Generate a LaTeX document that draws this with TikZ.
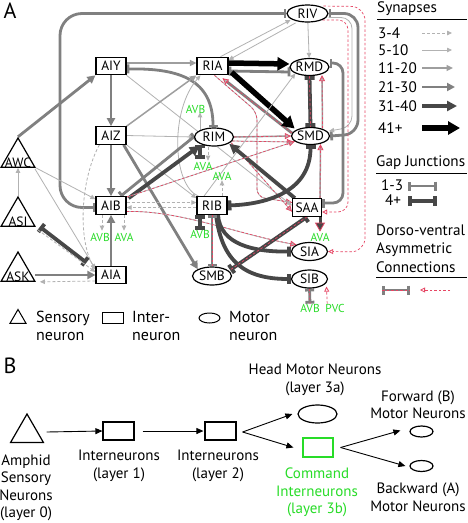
\documentclass[tikz,border=0pt]{standalone}
\usepackage{fontspec}
\setmainfont{PT Sans}
\usetikzlibrary{arrows.meta,shapes.geometric,calc}
\pgfdeclarelayer{bg}
\pgfsetlayers{bg,main}
\definecolor{c510}{gray}{0.70}
\definecolor{c1120}{gray}{0.62}
\definecolor{c2130}{gray}{0.50}
\definecolor{c3140}{gray}{0.28}
\definecolor{dvred}{RGB}{230,70,100}
\definecolor{cgreen}{RGB}{40,220,40}
\tikzset{
 nfont/.style={font=\fontsize{13.5}{14}\selectfont},
 lfont/.style={font=\fontsize{16}{18.5}\selectfont, inner sep=0pt},
 rfont/.style={font=\fontsize{15.2}{18.5}\selectfont, inner sep=0pt},
 bfont/.style={font=\fontsize{15}{17.5}\selectfont, inner sep=0pt, align=center},
 nbox/.style={draw, line width=1.2pt, fill=white, minimum width=30pt, minimum height=17.5pt, inner sep=0pt, nfont},
 nell/.style={draw, ellipse, line width=1.2pt, fill=white, minimum width=38pt, minimum height=17pt, inner sep=0pt, nfont},
 ntri/.style={draw, regular polygon, regular polygon sides=3, line width=1.2pt, fill=white, minimum size=39pt, inner sep=0pt},
 glab/.style={text=cgreen, font=\fontsize{11.5}{11.5}\selectfont, inner sep=0pt},
 s34/.style={draw=c510, line width=0.8pt, dash pattern=on 3pt off 2pt, -{Triangle[length=5pt,width=4.5pt]}},
 s510/.style={draw=c510, line width=0.8pt, -{Triangle[length=5pt,width=4.5pt]}},
 s1120/.style={draw=c1120, line width=1.5pt, -{Triangle[length=6.5pt,width=6pt]}},
 s2130/.style={draw=c2130, line width=2.8pt, -{Triangle[length=8pt,width=8pt]}},
 s3140/.style={draw=c3140, line width=3.8pt, -{Triangle[length=10pt,width=10pt]}},
 s41/.style={draw=black, line width=5.5pt, -{Triangle[length=12pt,width=13pt]}},
 g13/.style={draw=c2130, line width=2.8pt, {Bar[width=9pt]}-{Bar[width=9pt]}},
 g4/.style={draw=c3140, line width=3.8pt, {Bar[width=10pt]}-{Bar[width=10pt]}},
 dvo/.style={postaction={draw=dvred, line width=0.7pt, dash pattern=on 2.5pt off 2pt, arrows=-}},
 dvtip/.style={-{Triangle[length=6pt,width=6pt,fill=c510,color=dvred,line width=0.8pt]}},
 dvr/.style={draw=dvred, line width=0.7pt, dash pattern=on 2.5pt off 2pt, -{Triangle[open,length=5pt,width=5pt,line width=0.8pt]}},
 barr/.style={draw=black, line width=0.9pt, -{Triangle[length=7pt,width=6pt]}},
}
\begin{document}
\begin{tikzpicture}[x=1pt,y=-1pt]
\useasboundingbox (0,0) rectangle (467,523);
% ---------- Part A nodes ----------
\node[font=\fontsize{22}{22}\selectfont, inner sep=0pt] (lA) at (10,10.5) {A};
\node[nbox] (aiy) at (111,66) {AIY};
\node[nbox, minimum width=31pt] (ria) at (212.5,66) {RIA};
\node[nbox] (aiz) at (111,135.5) {AIZ};
\node[nell, minimum width=39pt, minimum height=18pt] (rim) at (214,137) {RIM};
\node[nbox] (aib) at (111,205.5) {AIB};
\node[nbox] (rib) at (212,205.5) {RIB};
\node[nbox] (aia) at (111,275) {AIA};
\node[nell, minimum width=39pt, minimum height=18pt] (smb) at (212,276) {SMB};
\node[nell, minimum width=41pt] (riv) at (307.5,13.5) {RIV};
\node[nell] (rmd) at (309.5,67) {RMD};
\node[nell] (smd) at (310.5,136) {SMD};
\node[nbox, minimum width=29pt] (saa) at (307,207.5) {SAA};
\node[nell, minimum width=36pt, minimum height=18pt] (sia) at (309.5,251.5) {SIA};
\node[nell, minimum width=36pt, minimum height=18pt] (sib) at (309.5,279) {SIB};
\node[ntri, label={[nfont, yshift=-5pt]center:AWC}] (awc) at (18,157.5) {};
\node[ntri, label={[nfont, yshift=-5pt]center:ASI}] (asi) at (18,216.5) {};
\node[ntri, label={[nfont, yshift=-5pt]center:ASK}] (ask) at (18,271.5) {};
% green labels
\node[glab] (avb1) at (195.5,109) {AVB};
\node[glab] (ava1) at (203,166) {AVA};
\node[glab] (ava2) at (222,176) {AVA};
\node[glab] (avb2) at (200,234) {AVB};
\node[glab] (avb3) at (100,237) {AVB};
\node[glab] (ava3) at (124,237) {AVA};
\node[glab] (ava4) at (320,237) {AVA};
\node[glab] (avb4) at (310,308) {AVB};
\node[glab] (pvc) at (335,308) {PVC};
% ---------- Part A legend ----------
\node[ntri, minimum size=18.5pt, line width=1pt] (lt) at (18,318.7) {};
\node[lfont, anchor=west, align=left] (ltt) at (36,326) {Sensory\\neuron};
\node[draw, line width=1pt, minimum width=21pt, minimum height=11pt, inner sep=0pt] (lr) at (112.5,317.5) {};
\node[lfont, anchor=west, align=left] (lrt) at (132,326) {Inter-\\neuron};
\node[draw, ellipse, line width=1pt, minimum width=21pt, minimum height=10pt, inner sep=0pt] (le) at (209.5,318) {};
\node[lfont, anchor=west, align=left] (let) at (229,326) {Motor\\neuron};
% ---------- right legend ----------
\node[rfont, anchor=west] (lsyn) at (377,9) {Synapses};
\node[rfont, anchor=west] (l1) at (378,33) {3-4};
\node[rfont, anchor=west] (l2) at (378,50) {5-10};
\node[rfont, anchor=west] (l3) at (378,68) {11-20};
\node[rfont, anchor=west] (l4) at (378,87) {21-30};
\node[rfont, anchor=west] (l5) at (378,106) {31-40};
\node[rfont, anchor=west] (l6) at (378,128) {41+};
\node[rfont, anchor=west] (lgap) at (376,163) {Gap Junctions};
\node[rfont, anchor=west] (lg1) at (381,185) {1-3};
\node[rfont, anchor=west] (lg2) at (385,200) {4+};
\node[rfont, anchor=west, align=left] (ldv) at (376,248.5) {Dorso-ventral\\Asymmetric\\Connections};
% ---------- Part B ----------
\node[font=\fontsize{22}{22}\selectfont, inner sep=0pt] (lB) at (10,366) {B};
\node[ntri, minimum size=38pt] (bt) at (27,433) {};
\node[draw, line width=1.2pt, minimum width=31pt, minimum height=18pt, inner sep=0pt] (b1) at (118.5,431) {};
\node[draw, line width=1.2pt, minimum width=31pt, minimum height=18pt, inner sep=0pt] (b2) at (220.5,431) {};
\node[draw, ellipse, line width=1.2pt, minimum width=39pt, minimum height=18pt, inner sep=0pt] (bh) at (317.5,414) {};
\node[draw=cgreen, line width=1.2pt, minimum width=30pt, minimum height=19pt, inner sep=0pt] (bc) at (318,447.5) {};
\node[draw, ellipse, line width=1.2pt, minimum width=23pt, minimum height=11pt, inner sep=0pt] (bf) at (421.5,431.5) {};
\node[draw, ellipse, line width=1.2pt, minimum width=23pt, minimum height=11pt, inner sep=0pt] (bb) at (421.5,466) {};
\node[bfont] (bt0) at (26,488) {Amphid\\Sensory\\Neurons\\(layer 0)};
\node[bfont] (bt1) at (119,466) {Interneurons\\(layer 1)};
\node[bfont] (bt2) at (218,466) {Interneurons\\(layer 2)};
\node[bfont] (bth) at (315,380) {Head Motor Neurons\\(layer 3a)};
\node[bfont, text=cgreen] (btc) at (317,492.5) {Command\\Interneurons\\(layer 3b)};
\node[bfont] (btf) at (418,404.5) {Forward (B)\\Motor Neurons};
\node[bfont] (btb) at (418,497) {Backward (A)\\Motor Neurons};

\begin{pgfonlayer}{bg}
\fill[white] (0,0) rectangle (467,523);
% big loops
\draw[g13, rounded corners=22pt] ($(aib.west)+(0,2)$) -- (60,207.5) -- (60,13.5) -- (riv.west);
\draw[g13, rounded corners=14pt] (riv.east) -- (358,13.5) -- (358,134) -- (smd.east);
\draw[s510, rounded corners=11pt] ($(riv.east)+(0,4)$) -- (352,17.5) -- (352,127) -- ($(smd.east)+(-1,-5)$);
\draw[g13, rounded corners=10pt] ($(rmd.east)+(0,-4)$) -- (343,63) -- (343,203) -- ($(saa.east)+(0,-4.5)$);
\draw[dvr, rounded corners=10pt] (riv.south east) -- (348,20) -- (348,212) -- ($(saa.east)+(0,4.5)$);
\draw[dvr, rounded corners=14pt] ($(riv.north east)+(1,-1)$) -- (365,6.5) -- (365,252) -- (sia.east);
% top
\draw[s510] ($(ria.north)+(8,0)$) -- ($(riv.south west)+(-2,0)$);
\draw[s510] ($(riv.south west)+(3,3)$) -- ($(ria.east)+(0,-6)$);
\draw[s510] (riv) -- (rmd);
\draw[g13] ($(ria.east)+(0,5)$) -- ($(rmd.west)+(1,5)$);
\draw[s41] ($(ria.east)+(0,-3)$) -- ($(rmd.west)+(0,-3)$);
\draw[s2130, dvo, dvtip] ($(smd.west)+(1,-3)$) -- ($(ria.south east)+(-6,3)$);
\draw[s41] ($(ria.south east)+(3,-3)$) -- ($(smd.north west)+(-2,-1)$);
\draw[g4, dvo] (rmd.south) -- (smd.north);
\draw[s1120, dvo, dvtip] ($(smd.north)+(12,1.5)$) -- ($(rmd.south)+(12.5,-1)$);
\draw[s1120, dvo, dvtip] ($(saa.north)+(13,0)$) -- ($(smd.south)+(10,-1)$);
\draw[s510, dvo, dvtip, rounded corners=8pt] ($(ria.south)+(2,0)$) -- (257,112) -- (257,197) -- ($(saa.west)+(0,-5)$);
% AIY / AIZ
\draw[s1120] ($(aiy.east)+(0,-3)$) -- ($(ria.west)+(0,-3)$);
\draw[g13] ($(aiy.east)+(0,3)$) .. controls (180,68) and (213,80) .. ($(rim.north)+(-1,0)$);
\draw[s2130] (aiy) -- (aiz);
\draw[s2130] (awc.corner 1) -- (aiy.south west);
\draw[s510] (aiy.south east) -- ($(saa.west)+(0,-2)$);
\draw[s1120] (aiz.north east) -- (ria.south west);
\draw[s510] (aiz.east) -- (rim.west);
\draw[s2130] (aiz) -- (aib);
\draw[s2130] ($(aiz.south east)+(-3,0)$) -- (smb.north west);
\draw[s510] (aiz.south east) -- ($(rib.north west)+(0,2)$);
\draw[s34] ($(aiz.south west)+(4,0)$) .. controls (80,180) and (78,240) .. ($(aia.north west)+(0,4)$);
% RIM
\draw[s510] ($(rim.north)+(-14,2.5)$) -- ($(avb1.south)+(4.5,-1)$);
\draw[s510] ($(rib.north west)+(2,0)$) .. controls (172,185) and (170,110) .. ($(ria.south)+(-12,0)$);
\draw[s510] ($(rib.north)+(-8,0)$) -- (rmd.south west);
\draw[s1120, dvo, dvtip] (rim.east) -- (smd.west);
\draw[s510, dvo, dvtip] ($(rim.east)+(-2,4)$) -- ($(smd.west)+(2,6)$);
\draw[s510, dvo, dvtip] ($(rim.south east)+(3,-1)$) -- ($(saa.west)+(0,4)$);
\draw[s3140] ($(saa.north west)+(3,0)$) -- ($(rim.south east)+(1,0)$);
\draw[g4] ($(rim.south)+(-14,-2)$) -- ($(ava1.north)+(-3,-3)$);
\draw[s34] ($(rim.south)+(-6,0)$) -- ($(ava1.north)+(5,-1)$);
% AIB
\draw[s3140] ($(aib.north east)+(2,2)$) -- ($(rim.south west)+(0,2)$);
\draw[g13] ($(aib.north east)+(-6,0)$) -- ($(rim.west)+(1,-1)$);
\draw[s510, dvo, dvtip] ($(aib.north east)+(0,1)$) -- ($(smd.south west)+(-2,-1)$);
\draw[s34] ($(aib.east)+(0,-3)$) -- ($(rib.west)+(0,-3)$);
\draw[s34] ($(rib.west)+(0,2)$) -- ($(aib.east)+(0,2)$);
\draw[s510, dvo, dvtip] ($(aib.east)+(0,6)$) .. controls (180,210) and (240,235) .. (sia.north west);
\draw[s34] ($(aib.south)+(-9,0)$) -- ($(avb3.north)+(2,-2)$);
\draw[s34] ($(aib.south)+(13,0)$) -- ($(ava3.north)+(0,-2)$);
\draw[s2130] (aia) -- (aib);
% RIB
\draw[g4] (rib.east) .. controls (270,204) and (310.5,190) .. (smd.south);
\draw[g4, arrows={-{Bar[width=10pt]}}] ($(rib.south)+(6,0)$) .. controls (220,245) and (255,252) .. (sia.west);
\draw[g4, arrows={-{Bar[width=10pt]}}] ($(rib.south)+(4,0)$) .. controls (222,262) and (245,279) .. (sib.west);
\draw[g13, dvo] (rib.south) -- (smb.north);
\draw[g4] ($(rib.south)+(-12,0)$) -- (avb2.north);
\draw[s34] ($(rib.north)+(10,0)$) -- (ava2.south);
% SAA / SIB
\draw[g4, dvo] (saa.south) -- ($(smb.east)+(-2,-6)$);
\draw[draw=c3140, line width=3pt, -{Triangle[length=9pt,width=10pt,fill=c3140,color=dvred,line width=0.8pt]}] ($(saa.south)+(13,0)$) -- ($(ava4.north)+(0,-1)$);
\draw[g13, dvo] (sib.south) -- (avb4.north);
\draw[dvr] ($(pvc.north west)+(2,0)$) -- ($(sib.south)+(17,-2)$);
% sensory
\draw[s510] (asi.corner 1) -- (awc.side 2);
\draw[s510] (awc.corner 3) -- ($(aib.north west)+(0,3)$);
\draw[s510] ($(awc.corner 3)+(-1,1)$) -- ($(aia.west)+(0,-6)$);
\draw[g4] ($(asi.corner 3)+(4,0)$) -- ($(aia.north west)+(-9,-3)$);
\draw[s34] ($(asi.corner 3)+(2,3)$) -- ($(aia.west)+(0,-3)$);
\draw[s2130] ($(ask.east |- aia.west)+(5,0)$) -- (aia.west);
\draw[s34] ($(aia.west)+(0,6)$) -- ($(ask.corner 3)+(4,0)$);
% legend samples
\draw[line width=1pt] (377,19) -- (467,19);
\draw[s34] (422,33) -- (452,33);
\draw[s510] (422,50) -- (452,50);
\draw[s1120] (422,68) -- (453,68);
\draw[s2130] (422,87) -- (455,87);
\draw[s3140] (422,106) -- (457,106);
\draw[s41] (422,128) -- (460,128);
\draw[line width=1pt] (376,173) -- (467,173);
\draw[g13] (408,186) -- (437,186);
\draw[g4] (408,201) -- (437,201);
\draw[line width=1pt] (376,277) -- (467,277);
\draw[g13, dvo] (382,290) -- (410,290);
\draw[dvr] (450,290) -- (420,290);
% Part B arrows
\draw[barr] ($(bt.east)+(8,-1)$) -- (b1.west);
\draw[barr] ($(b1.east)+(8,0)$) -- ($(b2.west)+(-1,0)$);
\draw[barr] ($(b2.east)+(6,1)$) -- ($(bh.west)+(-5,0)$);
\draw[barr] ($(b2.east)+(6,1)$) -- ($(bc.west)+(-9,0)$);
\draw[barr] ($(bc.east)+(7,0)$) -- ($(bf.west)+(-9,-1)$);
\draw[barr] ($(bc.east)+(7,0)$) -- ($(bb.west)+(-4,0)$);
\end{pgfonlayer}
\end{tikzpicture}
\end{document}
